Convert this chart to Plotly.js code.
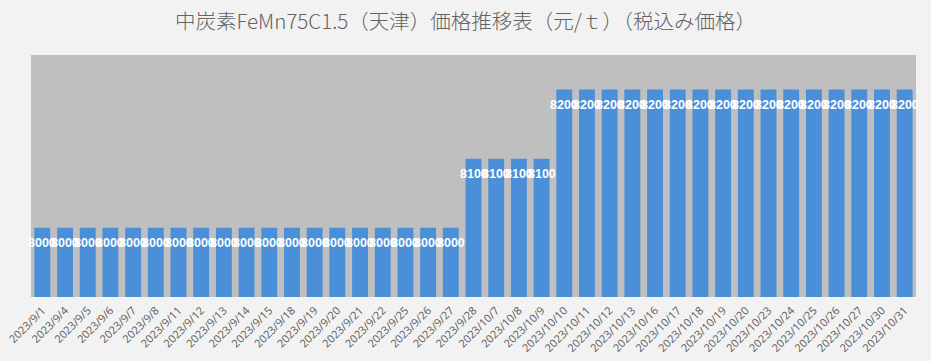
<!DOCTYPE html>
<html><head><meta charset="utf-8">
<script src="https://cdn.plot.ly/plotly-3.0.1.min.js"></script>
<style>body{margin:0;background:#f2f2f2}#c{width:931px;height:361px}</style>
</head><body><div id="c"></div>
<script>
const dates = ["2023/9/1","2023/9/4","2023/9/5","2023/9/6","2023/9/7","2023/9/8","2023/9/11","2023/9/12","2023/9/13","2023/9/14","2023/9/15","2023/9/18","2023/9/19","2023/9/20","2023/9/21","2023/9/22","2023/9/25","2023/9/26","2023/9/27","2023/9/28","2023/10/7","2023/10/8","2023/10/9","2023/10/10","2023/10/11","2023/10/12","2023/10/13","2023/10/16","2023/10/17","2023/10/18","2023/10/19","2023/10/20","2023/10/23","2023/10/24","2023/10/25","2023/10/26","2023/10/27","2023/10/30","2023/10/31"];
const prices = [8000,8000,8000,8000,8000,8000,8000,8000,8000,8000,8000,8000,8000,8000,8000,8000,8000,8000,8000,8100,8100,8100,8100,8200,8200,8200,8200,8200,8200,8200,8200,8200,8200,8200,8200,8200,8200,8200,8200];
const titleText = "中炭素FeMn75C1.5（天津）価格推移表（元/ｔ）（税込み価格）";

const data = [
  {type:'bar', x:dates, y:prices,
   marker:{color:'#4a8fd8'}, hoverinfo:'none'}
];
const annotations = dates.map((d,i)=>({
  x:d, y:prices[i], xref:'x', yref:'y', text:String(prices[i]), showarrow:false,
  yanchor:'middle', yshift:-15,
  font:{family:'Liberation Sans Narrow, Arial Narrow, sans-serif', size:12.5, color:'#ffffff', weight:'bold'}
}));
const layout = {
  width:931, height:361,
  paper_bgcolor:'#f2f2f2', plot_bgcolor:'#bfbfbf',
  margin:{l:31, r:15, t:55, b:64},
  showlegend:false,
  bargap:0.3,
  annotations:annotations,
  title:{text:titleText, x:0.5, xanchor:'center', y:0.94, yanchor:'middle', automargin:false,
    font:{family:'Noto Sans CJK JP, sans-serif', size:20.5, color:'#626262', weight:300}},
  xaxis:{type:'category', range:[-0.5, dates.length-0.5], tickangle:-45, automargin:false, ticklabelstandoff:4,
    tickfont:{family:'Open Sans, sans-serif', size:11, color:'#595959'},
    showgrid:false, zeroline:false, ticks:'', showline:false, fixedrange:true},
  yaxis:{range:[7900,8250], visible:false, automargin:false, showgrid:false, zeroline:false, fixedrange:true}
};
Plotly.newPlot('c', data, layout, {staticPlot:true});
</script></body></html>
